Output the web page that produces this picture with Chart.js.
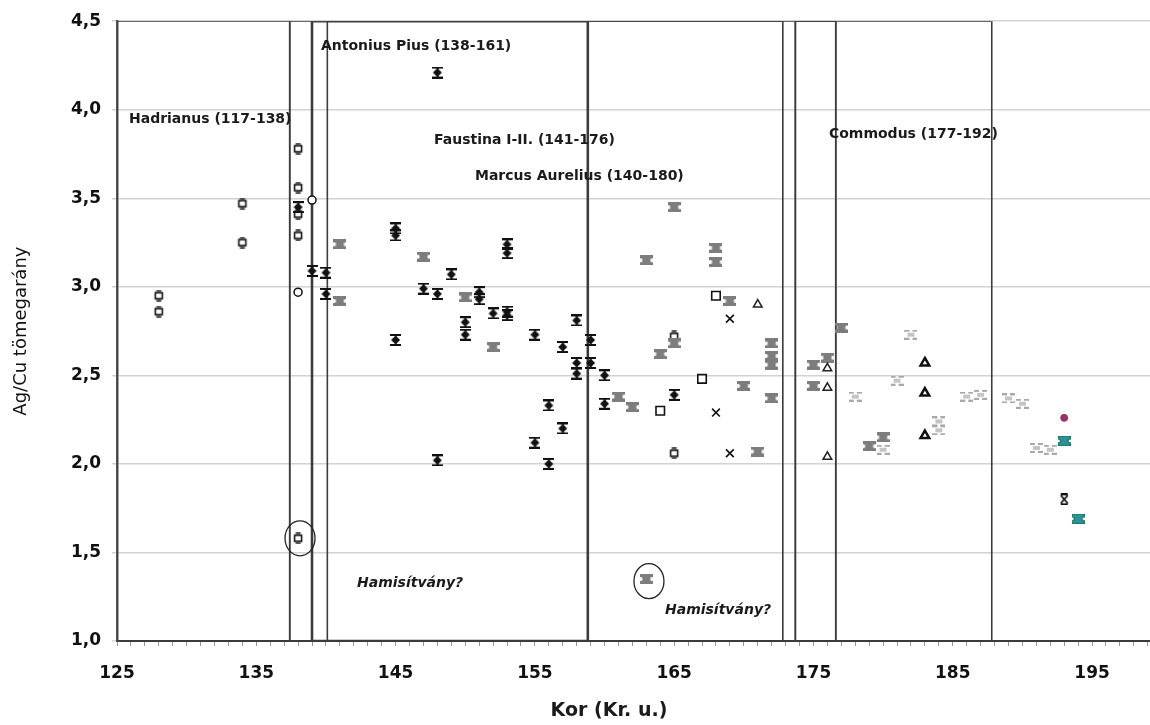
<!DOCTYPE html>
<html lang="hu">
<head>
<meta charset="UTF-8">
<title>Ag/Cu tömegarány</title>
<script src="https://cdn.jsdelivr.net/npm/chart.js"></script>
<style>
  body { margin: 0; background: #fff; }
  canvas { display: block; }
</style>
</head>
<body>
<canvas id="chart" width="1150" height="725"></canvas>
<script>
// Hadrianus (nyitott jelek hibasávval)
const hadrX = [128, 128, 134, 134, 138, 138, 138, 138, 138, 165, 165];
const hadrY = [2.95, 2.86, 3.47, 3.25, 3.78, 3.56, 3.41, 3.29, 1.58, 2.72, 2.06];
// nyitott körök
const circX = [138, 139];
const circY = [2.97, 3.49];
// Antonius Pius (fekete)
const piusX = [138, 139, 140, 140, 145, 145, 145, 147, 148, 148, 148, 149, 150, 150, 151, 151, 152, 153, 153, 153, 153, 155, 155, 156, 156, 157, 157, 158, 158, 158, 159, 159, 160, 160, 165];
const piusY = [3.45, 3.09, 3.08, 2.96, 3.33, 3.29, 2.70, 2.99, 4.21, 2.96, 2.02, 3.07, 2.80, 2.73, 2.97, 2.93, 2.85, 3.24, 3.19, 2.86, 2.84, 2.73, 2.12, 2.33, 2.00, 2.66, 2.20, 2.81, 2.57, 2.51, 2.70, 2.57, 2.50, 2.34, 2.39];
// Faustina / Marcus Aurelius (szürke)
const faustX = [141, 141, 147, 150, 152, 161, 162, 163, 163, 164, 165, 165, 168, 168, 169, 170, 171, 172, 172, 172, 172, 175, 175, 176, 177, 179, 180];
const faustY = [3.24, 2.92, 3.17, 2.94, 2.66, 2.38, 2.32, 3.15, 1.35, 2.62, 3.45, 2.68, 3.22, 3.14, 2.92, 2.44, 2.07, 2.68, 2.61, 2.56, 2.37, 2.56, 2.44, 2.60, 2.77, 2.10, 2.15];
// egyéb jelek
const sqX = [164, 167, 168];
const sqY = [2.30, 2.48, 2.95];
const crossX = [168, 169, 169];
const crossY = [2.29, 2.82, 2.06];
const triX = [171, 176, 176, 176];
const triY = [2.90, 2.54, 2.43, 2.04];
const tri2X = [183, 183, 183];
const tri2Y = [2.57, 2.40, 2.16];
// Commodus (világosszürke)
const commX = [178, 180, 181, 182, 184, 184, 186, 187, 189, 190, 191, 192];
const commY = [2.38, 2.08, 2.47, 2.73, 2.24, 2.19, 2.38, 2.39, 2.37, 2.34, 2.09, 2.08];
const purpX = [193];
const purpY = [2.26];
const tealX = [193, 194];
const tealY = [2.13, 1.69];
const xbarX = [193];
const xbarY = [1.80];

// uralkodási időszakok keretei
const reignFrom = [125, 139.0, 137.4, 140.1, 173.7, 173.7];
const reignTo = [137.4, 158.8, 172.8, 176.6, 187.8, 176.6];

const xMajor = [125, 135, 145, 155, 165, 175, 185, 195];

const notes = [
  { text: 'Hadrianus (117-138)', x: 125.86, y: 3.945 },
  { text: 'Antonius Pius (138-161)', x: 139.64, y: 4.36 },
  { text: 'Faustina I-II. (141-176)', x: 147.76, y: 3.826 },
  { text: 'Marcus Aurelius (140-180)', x: 150.7, y: 3.624 },
  { text: 'Commodus (177-192)', x: 176.11, y: 3.86 },
  { text: 'Hamisítvány?', x: 142.23, y: 1.327, italic: true },
  { text: 'Hamisítvány?', x: 164.34, y: 1.175, italic: true }
];
const suspects = [[138.14, 1.58], [163.19, 1.338]];

const FONT = "'DejaVu Sans', Arial, sans-serif";

function marker(w, h, draw) {
  const c = document.createElement('canvas');
  c.width = w; c.height = h;
  draw(c.getContext('2d'));
  return c;
}

const blackMark = marker(11, 12, g => {
  g.fillStyle = '#111';
  g.fillRect(0, 0, 11, 2);
  g.fillRect(0, 10, 11, 2);
  g.fillRect(5, 0, 1.5, 12);
  g.beginPath();
  g.moveTo(5.5, 1.5); g.lineTo(10, 6); g.lineTo(5.5, 10.5); g.lineTo(1, 6);
  g.closePath(); g.fill();
});

function beam(fill, edge) {
  return marker(13, 10, g => {
    g.fillStyle = fill;
    g.beginPath();
    g.moveTo(0, 0); g.lineTo(13, 0); g.lineTo(13, 3); g.lineTo(10.5, 3.5);
    g.lineTo(10.5, 6.5); g.lineTo(13, 7); g.lineTo(13, 10); g.lineTo(0, 10);
    g.lineTo(0, 7); g.lineTo(2.5, 6.5); g.lineTo(2.5, 3.5); g.lineTo(0, 3);
    g.closePath(); g.fill();
    if (edge) { g.strokeStyle = edge; g.lineWidth = 1; g.stroke(); }
  });
}
const greyMark = beam('#7d7d7d');
const tealMark = beam('#2a9494', '#1d5f5f');

const lightMark = marker(13, 10, g => {
  g.fillStyle = '#a9a9a9';
  g.fillRect(0, 0, 5, 2); g.fillRect(8, 0, 5, 2);
  g.fillRect(0, 8, 5, 2); g.fillRect(8, 8, 5, 2);
  g.fillStyle = '#c4c4c4';
  g.fillRect(3, 3, 7, 4);
});

const hadrMark = marker(12, 12, g => {
  g.strokeStyle = '#111'; g.lineWidth = 1.6;
  g.strokeRect(2.5, 3, 7, 6);
  g.fillStyle = '#111';
  g.fillRect(3.5, 0.3, 5, 1.4);
  g.fillRect(3.5, 10.3, 5, 1.4);
});

const xbarMark = marker(11, 12, g => {
  g.strokeStyle = '#111'; g.lineWidth = 1.8;
  g.beginPath();
  g.moveTo(2, 2); g.lineTo(9, 10); g.moveTo(9, 2); g.lineTo(2, 10);
  g.moveTo(2, 1); g.lineTo(9, 1); g.moveTo(2, 11); g.lineTo(9, 11);
  g.stroke();
});

function pts(xs, ys) { return xs.map((x, i) => ({ x: x, y: ys[i] })); }

function pointSet(xs, ys, opts) {
  return Object.assign({
    data: pts(xs, ys), showLine: false, order: 0,
    pointRadius: 5, pointHoverRadius: 5
  }, opts);
}

const datasets = [
  pointSet(xbarX, xbarY, { pointStyle: xbarMark }),
  pointSet(tealX, tealY, { pointStyle: tealMark }),
  pointSet(purpX, purpY, { pointStyle: 'circle', pointRadius: 3.5, backgroundColor: '#993366', borderColor: '#993366' }),
  pointSet(commX, commY, { pointStyle: lightMark }),
  pointSet(tri2X, tri2Y, { pointStyle: 'triangle', pointRadius: 5, backgroundColor: '#fff', borderColor: '#111', borderWidth: 2.5 }),
  pointSet(triX, triY, { pointStyle: 'triangle', pointRadius: 5, backgroundColor: '#fff', borderColor: '#222', borderWidth: 1.5 }),
  pointSet(crossX, crossY, { pointStyle: 'crossRot', pointRadius: 5.5, borderColor: '#111', borderWidth: 1.6 }),
  pointSet(sqX, sqY, { pointStyle: 'rect', pointRadius: 6, backgroundColor: '#fff', borderColor: '#111', borderWidth: 1.6 }),
  pointSet(faustX, faustY, { pointStyle: greyMark }),
  pointSet(piusX, piusY, { pointStyle: blackMark }),
  pointSet(circX, circY, { pointStyle: 'circle', pointRadius: 4, backgroundColor: '#fff', borderColor: '#111', borderWidth: 1.5 }),
  pointSet(hadrX, hadrY, { pointStyle: hadrMark })
];

reignFrom.forEach((a, i) => {
  const b = reignTo[i];
  datasets.push({
    data: [{ x: a, y: 1 }, { x: a, y: 4.5 }, { x: b, y: 4.5 }, { x: b, y: 1 }, { x: a, y: 1 }],
    showLine: true, pointRadius: 0, pointHoverRadius: 0, order: 10,
    borderColor: '#3c3c3c', borderWidth: i === 1 ? 2.6 : 1.6, fill: false, tension: 0
  });
});

const notesPlugin = {
  id: 'notes',
  afterDatasetsDraw(chart) {
    const ctx = chart.ctx, xs = chart.scales.x, ys = chart.scales.y;
    ctx.save();
    ctx.fillStyle = '#1a1a1a';
    ctx.textAlign = 'left';
    ctx.textBaseline = 'middle';
    notes.forEach(n => {
      ctx.font = (n.italic ? 'italic bold 14px ' : 'bold 14px ') + FONT;
      ctx.fillText(n.text, xs.getPixelForValue(n.x), ys.getPixelForValue(n.y));
    });
    ctx.strokeStyle = '#222';
    ctx.lineWidth = 1.3;
    suspects.forEach(s => {
      ctx.beginPath();
      ctx.ellipse(xs.getPixelForValue(s[0]), ys.getPixelForValue(s[1]), 15, 17.5, 0, 0, Math.PI * 2);
      ctx.stroke();
    });
    ctx.font = 'bold 19px ' + FONT;
    ctx.textAlign = 'center';
    ctx.fillText('Kor (Kr. u.)', 609, 711);
    ctx.restore();
  }
};

new Chart(document.getElementById('chart'), {
  type: 'scatter',
  data: { datasets: datasets },
  plugins: [notesPlugin],
  options: {
    responsive: false,
    animation: false,
    layout: { autoPadding: false, padding: { top: 20, right: 0, left: 0, bottom: 0 } },
    plugins: { legend: { display: false }, tooltip: { enabled: false } },
    scales: {
      x: {
        type: 'linear', min: 125, max: 199.16,
        afterBuildTicks: s => { const t = []; for (let v = 125; v <= 199; v++) t.push({ value: v }); s.ticks = t; },
        afterFit: s => { s.height = 84; s.paddingLeft = 0; s.paddingRight = 0; },
        ticks: {
          autoSkip: false, maxRotation: 0, padding: 17, color: '#111',
          font: { family: FONT, size: 17, weight: 'bold' },
          callback: v => xMajor.includes(v) ? String(v) : ''
        },
        grid: { drawOnChartArea: false, drawTicks: true, tickLength: 5, color: '#999' },
        border: { color: '#3c3c3c', width: 2 }
      },
      y: {
        min: 1, max: 4.5,
        afterFit: s => { s.width = 117; },
        ticks: {
          stepSize: 0.5, padding: 11, color: '#111',
          font: { family: FONT, size: 17, weight: 'bold' },
          callback: v => v.toFixed(1).replace('.', ',')
        },
        grid: { color: '#d2d2d2', lineWidth: 1.5, tickLength: 5 },
        border: { color: '#555', width: 2.5 },
        title: {
          display: true, text: 'Ag/Cu tömegarány', color: '#111',
          font: { family: FONT, size: 18 }, padding: { top: 11, bottom: 0 }
        }
      }
    }
  }
});
</script>
</body>
</html>
